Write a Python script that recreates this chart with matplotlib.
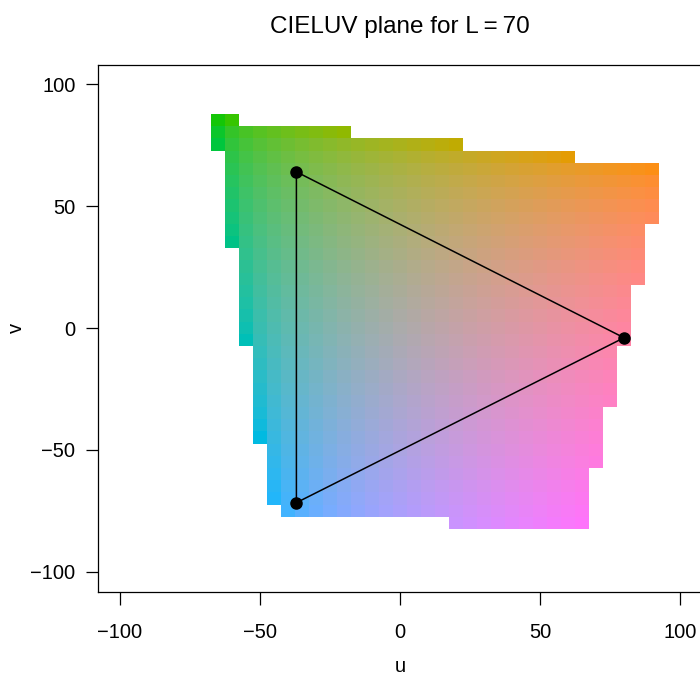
import numpy as np
import matplotlib
matplotlib.use("Agg")
import matplotlib.pyplot as plt

plt.rcParams["font.family"] = ["Liberation Sans", "DejaVu Sans"]

# Luminance of the plane
L_VALUE = 70

# Grid rows (v centres) and the u range drawn in each row (cell centres, step 5)
v_rows = [85, 80, 75, 70, 65, 60, 55, 50, 45, 40, 35, 30, 25, 20, 15, 10, 5, 0,
          -5, -10, -15, -20, -25, -30, -35, -40, -45, -50, -55, -60, -65, -70,
          -75, -80]
u_min = [-65, -65, -65, -60, -60, -60, -60, -60, -60, -60, -60, -55, -55, -55,
         -55, -55, -55, -55, -55, -50, -50, -50, -50, -50, -50, -50, -50, -45,
         -45, -45, -45, -45, -40, 20]
u_max = [-60, -20, 20, 60, 90, 90, 90, 90, 90, 85, 85, 85, 85, 85, 80, 80, 80,
         80, 80, 75, 75, 75, 75, 75, 70, 70, 70, 70, 70, 65, 65, 65, 65, 65]

# Triangle vertices
tri_u = [-37, 80, -37]
tri_v = [64, -4, -71.6]

STEP = 5


def luv_to_srgb(L, u, v):
    # D65 white point
    Xn, Yn, Zn = 95.047, 100.0, 108.883
    un = 4 * Xn / (Xn + 15 * Yn + 3 * Zn)
    vn = 9 * Yn / (Xn + 15 * Yn + 3 * Zn)
    Y = np.full(u.shape, Yn * ((L + 16) / 116) ** 3)
    up = u / (13 * L) + un
    vp = v / (13 * L) + vn
    X = Y * 9 * up / (4 * vp)
    Z = Y * (12 - 3 * up - 20 * vp) / (4 * vp)
    xyz = np.stack([X, Y, Z], axis=-1) / 100
    m = np.array([[3.240479, -1.537150, -0.498535],
                  [-0.969256, 1.875992, 0.041556],
                  [0.055648, -0.204043, 1.057311]])
    rgb = xyz @ m.T
    rgb = np.clip(rgb, 0, 1)
    rgb = np.where(rgb <= 0.0031308, 12.92 * rgb,
                   1.055 * rgb ** (1 / 2.4) - 0.055)
    return np.clip(rgb, 0, 1)


def main():
    u_centres = np.arange(min(u_min), max(u_max) + STEP, STEP)
    v_centres = np.arange(min(v_rows), max(v_rows) + STEP, STEP)
    uu, vv = np.meshgrid(u_centres, v_centres)
    rgb = luv_to_srgb(L_VALUE, uu.astype(float), vv.astype(float))

    alpha = np.zeros(uu.shape)
    for v, lo, hi in zip(v_rows, u_min, u_max):
        row = np.where(v_centres == v)[0][0]
        alpha[row, (u_centres >= lo) & (u_centres <= hi)] = 1
    img = np.dstack([rgb, alpha])

    fig = plt.figure(figsize=(7, 6.75), dpi=100)
    ax = fig.add_axes([97.6 / 700, 83.5 / 675, 604.8 / 700, 527 / 675])

    ax.imshow(img, origin="lower", interpolation="nearest", aspect="auto",
              extent=[u_centres[0] - STEP / 2, u_centres[-1] + STEP / 2,
                      v_centres[0] - STEP / 2, v_centres[-1] + STEP / 2])

    ax.plot(tri_u + tri_u[:1], tri_v + tri_v[:1], color="black", lw=1.1)
    ax.plot(tri_u, tri_v, "o", color="black", ms=8)

    ax.set_xlim(-108, 108)
    ax.set_ylim(-108, 108)
    ticks = [-100, -50, 0, 50, 100]
    ax.set_xticks(ticks)
    ax.set_yticks(ticks)
    ax.tick_params(labelsize=14.5, length=9, width=0.9)
    ax.tick_params(axis="x", pad=13.5)
    ax.tick_params(axis="y", pad=7)
    for s in ax.spines.values():
        s.set_linewidth(0.9)

    ax.set_xlabel("u", fontsize=14.5)
    ax.xaxis.set_label_coords(0.5, -(666.5 - 591.5) / 527, transform=ax.transAxes)
    ax.set_ylabel("v", fontsize=14.5, va="center")
    ax.yaxis.set_label_coords((16.5 - 97.6) / 604.8, 0.5)
    ax.xaxis.label.set_va("center")
    ax.set_title("CIELUV plane for L\u2009=\u200970", fontsize=17.5, pad=23)

    fig.savefig("out.png", dpi=100)
    plt.close(fig)


if __name__ == "__main__":
    main()
